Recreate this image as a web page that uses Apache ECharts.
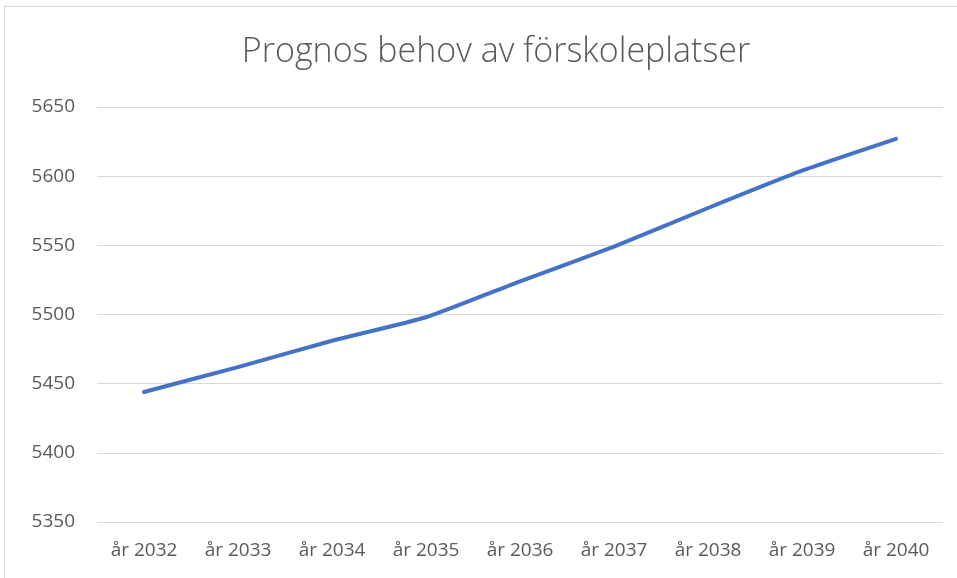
<!DOCTYPE html>
<html lang="sv" style="height: 100%">
<head>
  <meta charset="utf-8">
</head>
<body style="height: 100%; margin: 0; background: #fff">
  <div id="frame" style="position: absolute; left: 4px; top: 6px; width: 970px; height: 600px; border: 1px solid #d9d9d9; box-sizing: border-box"></div>
  <div id="container" style="position: absolute; left: 0; top: 0; width: 957px; height: 578px"></div>
  <script type="text/javascript" src="https://cdn.jsdelivr.net/npm/echarts@6/dist/echarts.min.js"></script>
  <script type="text/javascript">
    var years = ['år 2032', 'år 2033', 'år 2034', 'år 2035', 'år 2036', 'år 2037', 'år 2038', 'år 2039', 'år 2040'];
    var behov = [5444, 5462, 5481, 5498, 5524, 5549, 5577, 5604, 5627];

    var dom = document.getElementById('container');
    var myChart = echarts.init(dom, null, { renderer: 'canvas' });

    var option = {
      animation: false,
      title: {
        text: 'Prognos behov av förskoleplatser',
        left: 491,
        textAlign: 'center',
        top: 30,
        textStyle: {
          fontFamily: 'Open Sans',
          fontWeight: 300,
          fontSize: 34,
          color: '#595959'
        }
      },
      grid: { left: 97, right: 14, top: 107, bottom: 56 },
      xAxis: {
        type: 'category',
        data: years,
        boundaryGap: true,
        axisLine: { show: false },
        axisTick: { show: false },
        axisLabel: {
          margin: 19,
          fontFamily: 'Open Sans',
          fontSize: 19,
          color: '#595959'
        }
      },
      yAxis: {
        type: 'value',
        min: 5350,
        max: 5650,
        interval: 50,
        axisLine: { show: false },
        axisTick: { show: false },
        axisLabel: {
          margin: 22,
          fontFamily: 'Open Sans',
          fontSize: 19,
          color: '#595959',
          formatter: function (v) { return String(v); }
        },
        splitLine: { lineStyle: { color: '#d9d9d9', width: 1 } }
      },
      series: [
        {
          type: 'line',
          data: behov,
          showSymbol: false,
          smooth: 0.15,
          lineStyle: { color: '#4472c4', width: 4, cap: 'round', join: 'round' }
        }
      ]
    };

    myChart.setOption(option);
    window.addEventListener('resize', myChart.resize);
  </script>
</body>
</html>
